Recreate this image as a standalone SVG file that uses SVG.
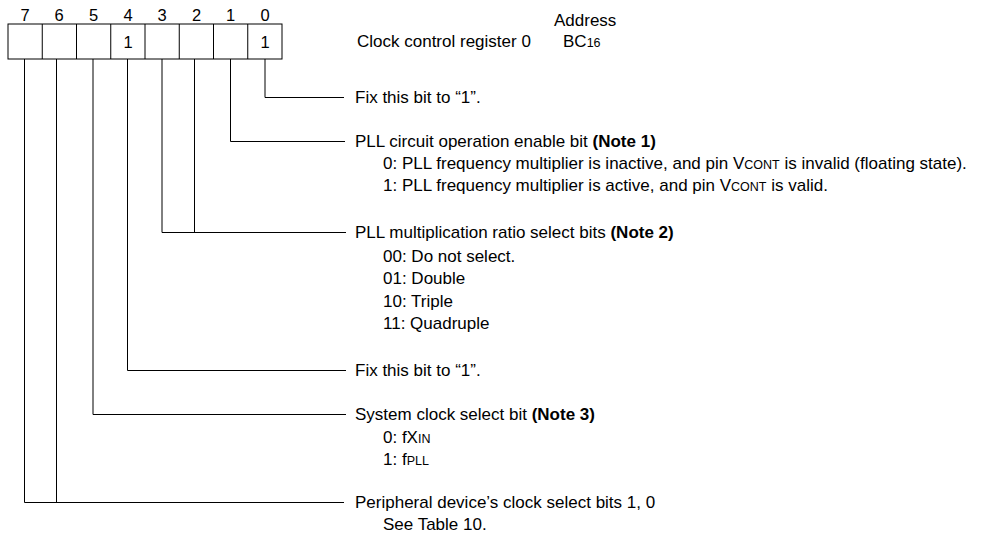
<svg xmlns="http://www.w3.org/2000/svg" width="992" height="539" viewBox="0 0 992 539">
<style>
text{font-family:"Liberation Sans",Arial,sans-serif;font-size:17px;fill:#000}
.b{font-weight:bold}
.s{font-size:12.5px}
.d{font-size:16.5px;text-anchor:middle}
.ln{fill:none;stroke:#000;stroke-width:1}
</style>
<rect width="992" height="539" fill="#fff"/>
<g id="register">
<rect class="ln" x="8" y="24" width="274" height="35"/>
<path class="ln" d="M42.25 24V59M76.5 24V59M110.75 24V59M145 24V59M179.25 24V59M213.5 24V59M247.75 24V59"/>
<text class="d" x="25" y="21">7</text>
<text class="d" x="59" y="21">6</text>
<text class="d" x="93.5" y="21">5</text>
<text class="d" x="128" y="21">4</text>
<text class="d" x="162" y="21">3</text>
<text class="d" x="196.5" y="21">2</text>
<text class="d" x="230.5" y="21">1</text>
<text class="d" x="265" y="21">0</text>
<text class="d" x="128" y="48">1</text>
<text class="d" x="265" y="48">1</text>
<text x="357" y="47">Clock control register 0</text>
<text x="554" y="26">Address</text>
<text x="563" y="47">BC<tspan class="s">16</tspan></text>
</g>
<g id="connectors">
<path class="ln" d="M265 59V97.5H344"/>
<path class="ln" d="M230.5 59V141.5H345"/>
<path class="ln" d="M194.5 59V232.5M162 59V232.5H346"/>
<path class="ln" d="M127.5 59V370.5H346"/>
<path class="ln" d="M93 59V414.5H346"/>
<path class="ln" d="M56.5 59V502.5M24.5 59V502.5H344"/>
</g>
<g id="bit0">
<text x="355" y="103">Fix this bit to “1”.</text>
</g>
<g id="bit1">
<text x="355" y="147">PLL circuit operation enable bit <tspan class="b">(Note 1)</tspan></text>
<text x="383" y="169">0: PLL frequency multiplier is inactive, and pin V<tspan class="s">CONT</tspan> is invalid (floating state).</text>
<text x="383" y="191">1: PLL frequency multiplier is active, and pin V<tspan class="s">CONT</tspan> is valid.</text>
</g>
<g id="bit32">
<text x="355" y="238">PLL multiplication ratio select bits <tspan class="b">(Note 2)</tspan></text>
<text x="383" y="262">00: Do not select.</text>
<text x="383" y="284">01: Double</text>
<text x="383" y="307">10: Triple</text>
<text x="383" y="329">11: Quadruple</text>
</g>
<g id="bit4">
<text x="355" y="376">Fix this bit to “1”.</text>
</g>
<g id="bit5">
<text x="355" y="420">System clock select bit <tspan class="b">(Note 3)</tspan></text>
<text x="383" y="443">0: fX<tspan class="s">IN</tspan></text>
<text x="383" y="465">1: f<tspan class="s">PLL</tspan></text>
</g>
<g id="bit76">
<text x="355" y="508">Peripheral device’s clock select bits 1, 0</text>
<text x="383" y="530">See Table 10.</text>
</g>
</svg>
